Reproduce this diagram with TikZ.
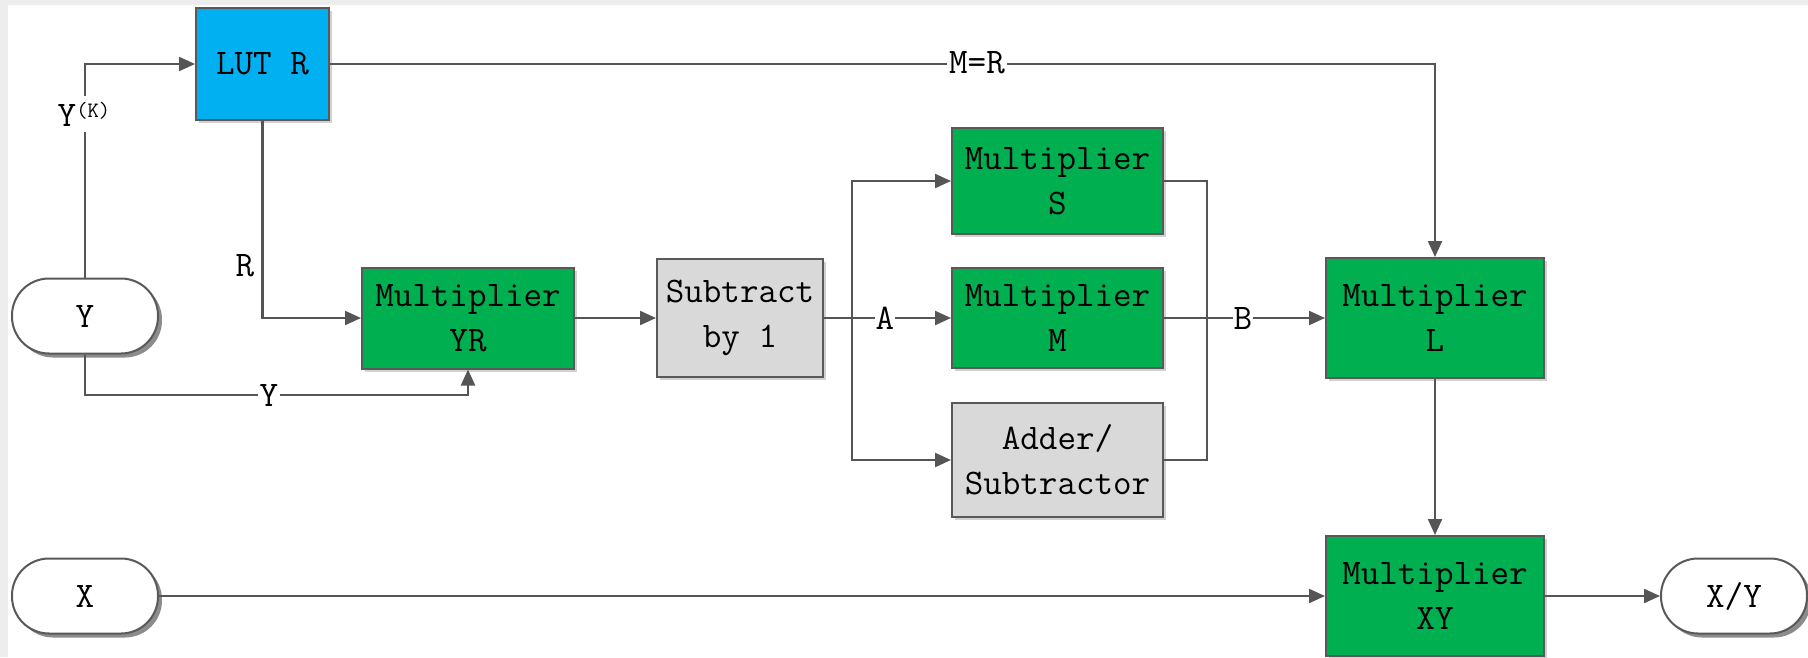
\documentclass[tikz,border=0pt]{standalone}
\usepackage{fontspec}
\usetikzlibrary{arrows.meta,shadows}

\definecolor{linegray}{HTML}{555555}
\definecolor{edgegray}{HTML}{595959}
\definecolor{mulgreen}{HTML}{00B050}
\definecolor{lutblue}{HTML}{00B0F0}
\definecolor{opgray}{HTML}{D9D9D9}
\definecolor{stripgray}{HTML}{EDEDED}

\tikzset{
  txt/.style={font=\fontsize{36}{45}\selectfont\ttfamily, text=black},
  block/.style={txt, draw=edgegray, line width=2pt, align=center, inner sep=0pt,
    drop shadow={shadow xshift=3pt, shadow yshift=-3pt, fill=black, opacity=0.18}},
  mulbox/.style={block, fill=mulgreen},
  lutbox/.style={block, fill=lutblue},
  opbox/.style={block, fill=opgray},
  terminal/.style={txt, draw=edgegray, line width=2pt, fill=white, inner sep=0pt,
    minimum width=146pt, minimum height=75pt, rounded corners=37pt,
    drop shadow={shadow xshift=4pt, shadow yshift=-4pt, fill=black, opacity=0.45}},
  conn/.style={draw=linegray, line width=2.2pt},
  arr/.style={conn, -{Triangle[length=16pt,width=14pt]}},
  onlbl/.style={txt, fill=white, inner sep=2pt},
  sidelbl/.style={txt, inner sep=0pt},
}

\begin{document}
\begin{tikzpicture}[x=1pt, y=-1pt]
  \useasboundingbox (0,0) rectangle (1808,657);
  \clip (0,0) rectangle (1808,657);
  \fill[white] (0,0) rectangle (1808,657);
  % screen strips along the top and left edges
  \fill[stripgray] (0,0) rectangle (1808,5);
  \fill[stripgray] (0,0) rectangle (8,657);

  % blocks
  \node[lutbox, minimum width=133pt, minimum height=112pt] (lut) at (262.5,64) {LUT R};
  \node[terminal] (ytm) at (85,316) {Y};
  \node[terminal] (xtm) at (85,596) {X};
  \node[mulbox, minimum width=212pt, minimum height=101pt] (yr) at (468,318) {Multiplier\\YR};
  \node[opbox, minimum width=166pt, minimum height=118pt] (sub) at (740,318) {Subtract\\by 1};
  \node[mulbox, minimum width=211pt, minimum height=106pt] (ms) at (1057.5,181) {Multiplier\\S};
  \node[mulbox, minimum width=211pt, minimum height=100pt] (mm) at (1057.5,318) {Multiplier\\M};
  \node[opbox, minimum width=211pt, minimum height=114pt] (add) at (1057.5,460) {Adder/\\Subtractor};
  \node[mulbox, minimum width=218pt, minimum height=120pt] (ml) at (1435,318) {Multiplier\\L};
  \node[mulbox, minimum width=218pt, minimum height=120pt] (mxy) at (1435,596) {Multiplier\\XY};
  \node[terminal] (xy) at (1734,596) {X/Y};

  % junction points
  \coordinate (ybend) at (468,395);
  \coordinate (split) at (852,318);
  \coordinate (merge) at (1207,318);

  % connectors
  \draw[arr] (ytm.north) |- (lut.west);
  \draw[arr] (lut.east) -| (ml.north);
  \draw[arr] (lut.south) |- (yr.west);
  \draw[arr] (ytm.south) |- (ybend) -- (yr.south);
  \draw[arr] (yr.east) -- (sub.west);
  \draw[conn] (sub.east) -- (split);
  \draw[arr] (split) |- (ms.west);
  \draw[arr] (split) -- (mm.west);
  \draw[arr] (split) |- (add.west);
  \draw[conn] (ms.east) -| (merge);
  \draw[conn] (add.east) -| (merge);
  \draw[arr] (mm.east) -- (ml.west);
  \draw[arr] (ml.south) -- (mxy.north);
  \draw[arr] (xtm.east) -- (mxy.west);
  \draw[arr] (mxy.east) -- (xy.west);

  % signal names
  \node[onlbl, inner ysep=6pt] (lblyk) at (84,114) {Y\raisebox{9pt}{\fontsize{22}{22}\selectfont(K)}};
  \node[onlbl] (lblmr) at (977,63) {M=R};
  \node[sidelbl] (lblr) at (245,266) {R};
  \node[onlbl] (lbly) at (269,395) {Y};
  \node[onlbl, inner xsep=1pt] (lbla) at (885,318) {A};
  \node[onlbl, inner xsep=1pt] (lblb) at (1243,318) {B};
\end{tikzpicture}
\end{document}
